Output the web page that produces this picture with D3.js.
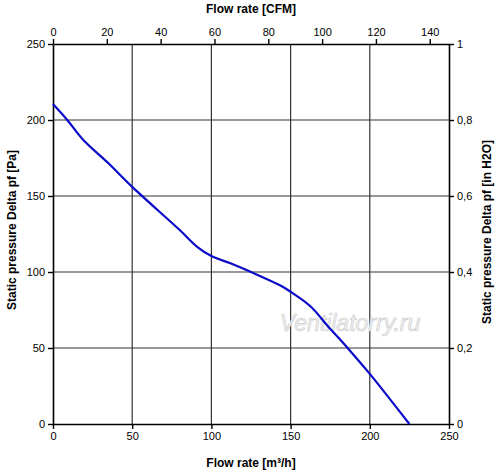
<!DOCTYPE html>
<html>
<head>
<meta charset="utf-8">
<script src="https://cdn.jsdelivr.net/npm/d3@7"></script>
<style>
  body { margin: 0; background: #fff; }
  text { font-family: "Liberation Sans", Arial, sans-serif; }
</style>
</head>
<body>
<div id="chart"></div>
<script>
// curve: flow rate [m3/h] vs static pressure [Pa]
const flow = [0, 9, 19, 35, 50, 80, 91, 100, 112, 125, 143, 150, 163, 173, 186, 200, 225];
const pressure = [210.5, 200, 187, 171.5, 156, 127.6, 116.6, 110.5, 105.7, 100, 91.4, 87, 77, 65, 50, 33, 0];

const bottomTicks = [0, 50, 100, 150, 200, 250];
const leftTicks = [0, 50, 100, 150, 200, 250];
const topTicks = [0, 20, 40, 60, 80, 100, 120, 140];
const rightTicks = [0, 0.2, 0.4, 0.6, 0.8, 1];

const width = 500, height = 473;
const margin = { top: 44, right: 51, bottom: 49, left: 53 };

const svg = d3.select("#chart")
    .append("svg")
    .attr("width", width)
    .attr("height", height);

const x = d3.scaleLinear().domain([0, 250]).range([margin.left, width - margin.right]);
const y = d3.scaleLinear().domain([0, 250]).range([height - margin.bottom, margin.top]);
// 250 m3/h = 147.1 CFM, 250 Pa ~ 1 inH2O
const xTop = d3.scaleLinear().domain([0, 250 * 0.5886]).range(x.range());
const yRight = d3.scaleLinear().domain([0, 1]).range(y.range());

const fmt = d => String(d).replace(".", ",");

// grid
svg.append("g")
    .selectAll("line")
    .data(bottomTicks.slice(1, -1))
    .join("line")
    .attr("x1", d => x(d)).attr("x2", d => x(d))
    .attr("y1", y(0)).attr("y2", y(250))
    .attr("stroke", "#333").attr("stroke-width", 1.2);

svg.append("g")
    .selectAll("line")
    .data(leftTicks.slice(1, -1))
    .join("line")
    .attr("x1", x(0)).attr("x2", x(250))
    .attr("y1", d => y(d)).attr("y2", d => y(d))
    .attr("stroke", "#333").attr("stroke-width", 1.2);

// watermark
svg.append("text")
    .attr("x", 350).attr("y", 331)
    .attr("text-anchor", "middle")
    .style("font-size", "23px")
    .style("font-style", "italic")
    .attr("fill", "#f2f2f2")
    .attr("stroke", "#cfcfcf")
    .attr("stroke-width", 0.7)
    .text("Ventilatorry.ru");

// axes
function styleAxis(g) {
    g.select(".domain").attr("stroke", "#000").attr("stroke-width", 1.6);
    g.selectAll(".tick line").attr("stroke", "#000").attr("stroke-width", 1.4);
    g.selectAll(".tick text").style("font-size", "11px").attr("fill", "#000");
}

svg.append("g")
    .attr("transform", `translate(0,${y(0)})`)
    .call(d3.axisBottom(x).tickValues(bottomTicks).tickSize(5).tickSizeOuter(0))
    .call(styleAxis);

svg.append("g")
    .attr("transform", `translate(${x(0)},0)`)
    .call(d3.axisLeft(y).tickValues(leftTicks).tickSize(5).tickSizeOuter(0))
    .call(styleAxis);

svg.append("g")
    .attr("transform", `translate(0,${y(250)})`)
    .call(d3.axisTop(xTop).tickValues(topTicks).tickSize(5).tickSizeOuter(0))
    .call(styleAxis);

svg.append("g")
    .attr("transform", `translate(${x(250)},0)`)
    .call(d3.axisRight(yRight).tickValues(rightTicks).tickFormat(fmt).tickSize(5).tickSizeOuter(0))
    .call(styleAxis);

// curve
const line = d3.line()
    .x((d, i) => x(flow[i]))
    .y(d => y(d))
    .curve(d3.curveCatmullRom.alpha(0.5));

svg.append("path")
    .datum(pressure)
    .attr("d", line)
    .attr("fill", "none")
    .attr("stroke", "#0a0ac8")
    .attr("stroke-width", 2.2);

// titles
const titleStyle = sel => sel.style("font-size", "12px").style("font-weight", "bold").attr("fill", "#000");

svg.append("text")
    .attr("x", 251).attr("y", 13)
    .attr("text-anchor", "middle")
    .call(titleStyle)
    .text("Flow rate [CFM]");

svg.append("text")
    .attr("x", 251).attr("y", 467)
    .attr("text-anchor", "middle")
    .call(titleStyle)
    .text("Flow rate [m³/h]");

svg.append("text")
    .attr("transform", `translate(16,230) rotate(-90)`)
    .attr("text-anchor", "middle")
    .call(titleStyle)
    .text("Static pressure Delta pf [Pa]");

svg.append("text")
    .attr("transform", `translate(491,232) rotate(-90)`)
    .attr("text-anchor", "middle")
    .call(titleStyle)
    .text("Static pressure Delta pf [in H2O]");
</script>
</body>
</html>
